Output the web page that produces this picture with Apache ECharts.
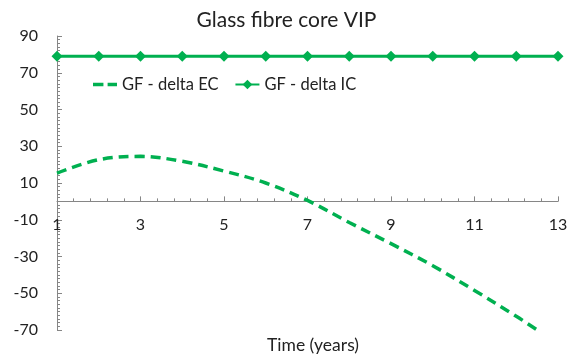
<!DOCTYPE html>
<html><head><meta charset="utf-8">
<script src="https://cdn.jsdelivr.net/npm/echarts@6/dist/echarts.min.js"></script>
<style>html,body{margin:0;padding:0;background:#fff}#c{width:573px;height:354px}</style>
</head><body><div id="c"></div>
<script>
var title = 'Glass fibre core VIP';
var xName = 'Time (years)';
var ecYears = [1, 2, 3, 4, 5, 6, 7, 8, 9, 10, 11, 12, 12.5];
var ecValues = [15.4, 22.7, 24.5, 21.8, 16.5, 10, 0.5, -11.5, -23, -35, -48.5, -62.5, -70];
var icYears = [1, 2, 3, 4, 5, 6, 7, 8, 9, 10, 11, 12, 13];
var icValues = [79, 79, 79, 79, 79, 79, 79, 79, 79, 79, 79, 79, 79];
var seriesNames = ['GF - delta EC', 'GF - delta IC'];

function pairs(xs, ys) { return xs.map(function (x, i) { return [x, ys[i]]; }); }

var green = '#00B050';
var axisGray = '#868686';
var font = 'Lato, "Open Sans", sans-serif';
var gridTop = 36, gridBottom = 24, H = 354;
var yMin = -70, yMax = 90;
// shift x axis from the grid bottom up to the y = 0 line
var plotH = H - gridTop - gridBottom;
var xAxisOffset = -plotH * (0 - yMin) / (yMax - yMin);

var chart = echarts.init(document.getElementById('c'));
chart.setOption({
  animation: false,
  textStyle: { fontFamily: font },
  title: [
    { text: title, left: 'center', top: 5, textStyle: { fontFamily: font, fontSize: 21, fontWeight: 'normal', color: '#222' } },
    { text: xName, left: 308, textAlign: 'center', top: 331, textStyle: { fontFamily: font, fontSize: 17.5, fontWeight: 'normal', color: '#222' } }
  ],
  legend: {
    left: 88, top: 71, itemWidth: 24, itemHeight: 12, itemGap: 16, symbolKeepAspect: true,
    textStyle: { fontFamily: font, fontSize: 16.5, color: '#222' },
    data: [
      { name: seriesNames[0], icon: 'path://M0,0h10v3.4h-10z M14,0h9v3.4h-9z', itemStyle: { color: green } },
      { name: seriesNames[1] }
    ]
  },
  grid: { left: 57, right: 15, top: gridTop, bottom: gridBottom, containLabel: false },
  xAxis: {
    type: 'value', min: 1, max: 13, interval: 2,
    offset: xAxisOffset,
    axisLine: { onZero: false, lineStyle: { color: axisGray, width: 1 } },
    axisTick: { inside: true, length: 5, lineStyle: { color: axisGray } },
    minorTick: { show: true, splitNumber: 5, length: 3, lineStyle: { color: axisGray } },
    axisLabel: { margin: 15, fontSize: 16, color: '#222', fontFamily: font },
    splitLine: { show: false }
  },
  yAxis: {
    type: 'value', min: yMin, max: yMax, interval: 20,
    axisLine: { show: true, lineStyle: { color: axisGray, width: 1 } },
    axisTick: { show: true, inside: true, length: 5, lineStyle: { color: axisGray } },
    minorTick: { show: true, splitNumber: 10, length: 3, lineStyle: { color: axisGray } },
    axisLabel: { margin: 19, fontSize: 16, color: '#222', fontFamily: font },
    splitLine: { show: false }
  },
  series: [
    {
      name: seriesNames[0], type: 'line', data: pairs(ecYears, ecValues),
      smooth: 0.35, symbol: 'none',
      lineStyle: { color: green, width: 3.5, type: [10, 6] },
      itemStyle: { color: green }
    },
    {
      name: seriesNames[1], type: 'line', data: pairs(icYears, icValues),
      symbol: 'diamond', symbolSize: 11,
      lineStyle: { color: green, width: 3 },
      itemStyle: { color: green }
    }
  ]
});
</script></body></html>
